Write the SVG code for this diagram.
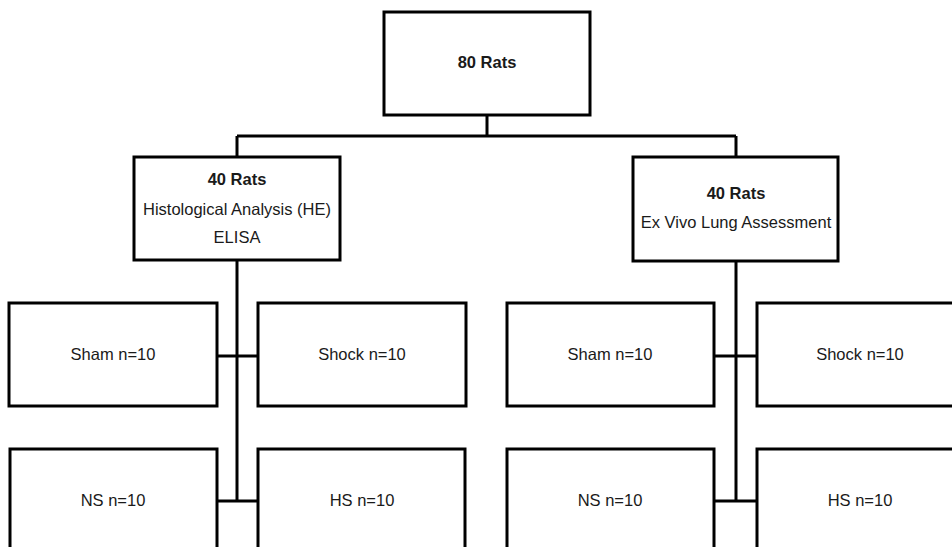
<svg xmlns="http://www.w3.org/2000/svg" width="952" height="547" viewBox="0 0 952 547">
<style>
.box{fill:#fff;stroke:#000;stroke-width:3}
.ln{stroke:#000;stroke-width:3;fill:none}
text{font-family:"Liberation Sans",Arial,sans-serif;font-size:16.5px;fill:#1a1a1a;text-anchor:middle}
.b{font-weight:bold}
</style>
<rect width="952" height="547" fill="#fff"/>
<g id="connectors">
<path class="ln" d="M487,115V136M237,136H736M237,136V157M736,136V157"/>
<path class="ln" d="M237,260V501M217,356H258M217,501H258"/>
<path class="ln" d="M736,261V501M714,356H757M714,501H757"/>
</g>
<g id="n80"><rect class="box" x="384" y="12" width="206" height="103"/><text class="b" x="487" y="68">80 Rats</text></g>
<g id="nLeft"><rect class="box" x="134" y="157" width="206" height="103"/>
<text class="b" x="237" y="185">40 Rats</text>
<text x="237" y="215">Histological Analysis (HE)</text>
<text x="237" y="243">ELISA</text></g>
<g id="nRight"><rect class="box" x="633" y="157" width="205" height="104"/>
<text class="b" x="736" y="199">40 Rats</text>
<text x="736" y="228">Ex Vivo Lung Assessment</text></g>
<g id="shamL"><rect class="box" x="9" y="303" width="208" height="103"/><text x="113" y="360">Sham n=10</text></g>
<g id="shockL"><rect class="box" x="258" y="303" width="208" height="103"/><text x="362" y="360">Shock n=10</text></g>
<g id="nsL"><rect class="box" x="10" y="449" width="207" height="110"/><text x="113" y="506">NS n=10</text></g>
<g id="hsL"><rect class="box" x="258" y="449" width="207" height="110"/><text x="362" y="506">HS n=10</text></g>
<g id="shamR"><rect class="box" x="507" y="303" width="207" height="103"/><text x="610" y="360">Sham n=10</text></g>
<g id="shockR"><rect class="box" x="757" y="303" width="207" height="103"/><text x="860" y="360">Shock n=10</text></g>
<g id="nsR"><rect class="box" x="507" y="449" width="207" height="110"/><text x="610" y="506">NS n=10</text></g>
<g id="hsR"><rect class="box" x="757" y="449" width="207" height="110"/><text x="860" y="506">HS n=10</text></g>
</svg>
